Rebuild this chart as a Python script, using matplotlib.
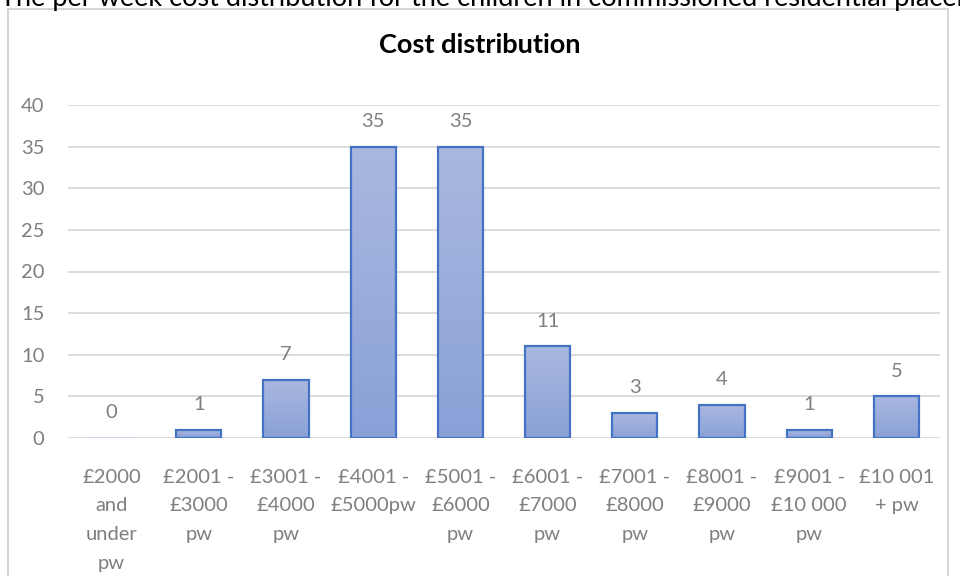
import matplotlib.pyplot as plt
import numpy as np
from matplotlib.patches import Rectangle
from matplotlib.colors import LinearSegmentedColormap

categories = ['£2000\nand\nunder\npw', '£2001 -\n£3000\npw', '£3001 -\n£4000\npw',
              '£4001 -\n£5000pw', '£5001 -\n£6000\npw', '£6001 -\n£7000\npw',
              '£7001 -\n£8000\npw', '£8001 -\n£9000\npw', '£9001 -\n£10 000\npw',
              '£10 001\n+ pw']
counts = [0, 1, 7, 35, 35, 11, 3, 4, 1, 5]
yticks = [0, 5, 10, 15, 20, 25, 30, 35, 40]

plt.rcParams['font.family'] = ['Lato', 'DejaVu Sans']
grey = '#7f7f7f'

fig = plt.figure(figsize=(9.6, 5.76), dpi=100)
ax = fig.add_axes([68 / 960, 1 - 438 / 576, 872 / 960, 333 / 576])

# heading text running off the top of the page
fig.text(0.0, 1 - 6 / 576, 'The per week cost distribution for the children in commissioned residential placements',
         fontsize=19.5, color='black', va='baseline', ha='left')

# chart frame
fig.patches.append(Rectangle((8 / 960, -0.1), 940 / 960, 1.1 - 9 / 576, transform=fig.transFigure,
                             fill=False, edgecolor='#d0d0d0', linewidth=1.2))

x = np.arange(len(categories))
edges = ['#4472c4' if v > 0 else '#c9d3ec' for v in counts]
bars = ax.bar(x, counts, width=0.52, color='none', edgecolor=edges, linewidth=1.6, zorder=3)

# vertical gradient inside each bar
cmap = LinearSegmentedColormap.from_list('barfill', ['#8aa1d8', '#a9b8df'])
grad = np.linspace(0, 1, 256).reshape(-1, 1)
for b in bars:
    if b.get_height() <= 0:
        continue
    x0, w, h = b.get_x(), b.get_width(), b.get_height()
    im = ax.imshow(grad, cmap=cmap, origin='lower', aspect='auto',
                   extent=[x0, x0 + w, 0, h], zorder=2)
    im.set_clip_path(b)

for xi, v in zip(x, counts):
    ax.annotate(str(v), (xi, v), xytext=(0, 12), textcoords='offset points',
                ha='center', va='bottom', fontsize=14.5, color=grey)

ax.set_xlim(-0.5, len(categories) - 0.5)
ax.set_ylim(0, 40)
ax.set_yticks(yticks)
ax.set_xticks(x)
ax.set_xticklabels(categories, fontsize=14.5, color=grey, linespacing=1.84)
ax.tick_params(axis='y', labelsize=14.5, labelcolor=grey, length=0, pad=17)
ax.tick_params(axis='x', length=0, pad=22)
ax.grid(axis='y', color='#d9d9d9', linewidth=1.3, zorder=0)
for s in ax.spines.values():
    s.set_visible(False)
ax.set_axisbelow(True)

fig.text(0.5, 1 - 45 / 576, 'Cost distribution', fontsize=19.5, fontweight='bold',
         ha='center', va='center')

fig.savefig('out.png', dpi=100)
